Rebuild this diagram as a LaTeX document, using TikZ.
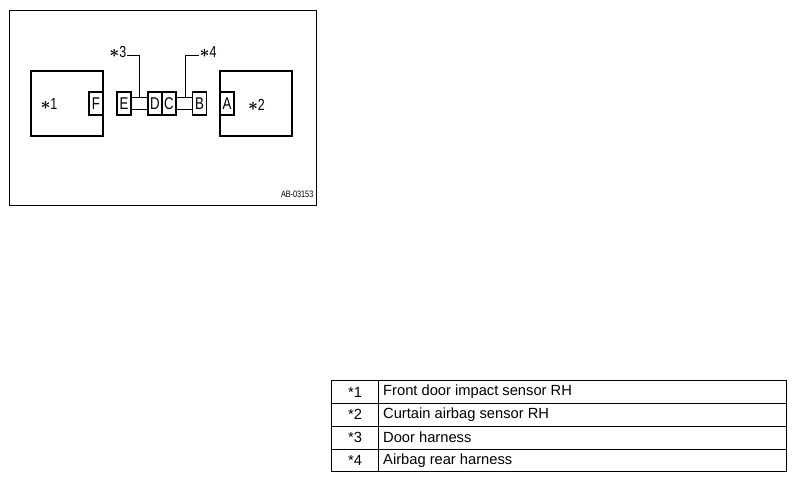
\documentclass[tikz,border=0pt]{standalone}
\usepackage{fontspec}
\setmainfont{Liberation Sans}
\newfontfamily\narrowfont[FakeStretch=0.78]{Liberation Sans}
\newcommand{\bast}{\mbox{\boldmath$\ast$}}
\begin{document}
\begin{tikzpicture}[x=1pt,y=-1pt,
  bigbox/.style={draw,line width=1.9pt,minimum width=72pt,minimum height=65pt,inner sep=0pt},
  connbox/.style={draw,line width=1.9pt,minimum width=14pt,minimum height=23pt,inner sep=0pt,font=\narrowfont\fontsize{17}{17}\selectfont},
  barbox/.style={draw,line width=1.9pt,minimum height=12pt,inner sep=0pt},
  lbl/.style={inner sep=0pt,font=\narrowfont\fontsize{16}{16}\selectfont},
  leader/.style={line width=0.9pt},
  cellA/.style={inner sep=0pt,anchor=center,font=\fontsize{14.7}{14.7}\selectfont},
  cellB/.style={inner sep=0pt,anchor=west,font=\fontsize{14.7}{14.7}\selectfont},
  tline/.style={line width=0.9pt}]
\useasboundingbox (0,0) rectangle (796,483);
% frame
\node[draw,line width=0.9pt,minimum width=306.5pt,minimum height=194.5pt,inner sep=0pt] (frame) at (162.75,107.75) {};
% big boxes
\node[bigbox] (s1) at (67,103.5) {};
\node[bigbox] (s2) at (256,103.5) {};
\node[lbl] (t1) at (49,104) {\bast 1};
\node[lbl] (t2) at (256.5,105) {\bast 2};
% connectors
\node[connbox] (F) at (96,103.5) {F};
\node[connbox] (E) at (124,103.5) {E};
\node[connbox] (D) at (155,103.5) {D};
\node[connbox] (C) at (169,103.5) {C};
\node[connbox] (B) at (199.5,103.5) {B};
\node[connbox] (A) at (227,103.5) {A};
\node[barbox,minimum width=17pt] (bar1) at (139.5,103.5) {};
\node[barbox,minimum width=16.5pt] (bar2) at (184.25,103.5) {};
% leaders
\coordinate (c3) at (127,55.5);
\coordinate (c4) at (199,55.5);
\draw[leader] (bar1.north) |- (c3);
\draw[leader] ([xshift=1pt]bar2.north) |- (c4);
\node[lbl,anchor=east] (t3) at ([yshift=4pt,xshift=-0.5pt]c3) {\bast 3};
\node[lbl,anchor=west] (t4) at ([yshift=4pt,xshift=0.5pt]c4) {\bast 4};
\node[inner sep=0pt,anchor=south east,font=\narrowfont\fontsize{9.3}{9.3}\selectfont] (code) at (313.5,197.5) {AB-03153};
% table
\coordinate (tl) at (331.7,380.7);
\coordinate (br) at (786.7,471.7);
\draw[tline] (tl) rectangle (br);
\draw[tline] (378.3,380.7) -- (378.3,471.7);
\draw[tline] (331.7,403.5) -- (786.7,403.5);
\draw[tline] (331.7,426.2) -- (786.7,426.2);
\draw[tline] (331.7,449) -- (786.7,449);
\node[cellA] (r1a) at (355,392) {*1};
\node[cellA] (r2a) at (355,414.8) {*2};
\node[cellA] (r3a) at (355,437.6) {*3};
\node[cellA] (r4a) at (355,460.3) {*4};
\node[cellB] (r1b) at (383,392) {Front door impact sensor RH};
\node[cellB] (r2b) at (383,414.8) {Curtain airbag sensor RH};
\node[cellB] (r3b) at (383,437.6) {Door harness};
\node[cellB] (r4b) at (383,460.3) {Airbag rear harness};
\end{tikzpicture}
\end{document}
